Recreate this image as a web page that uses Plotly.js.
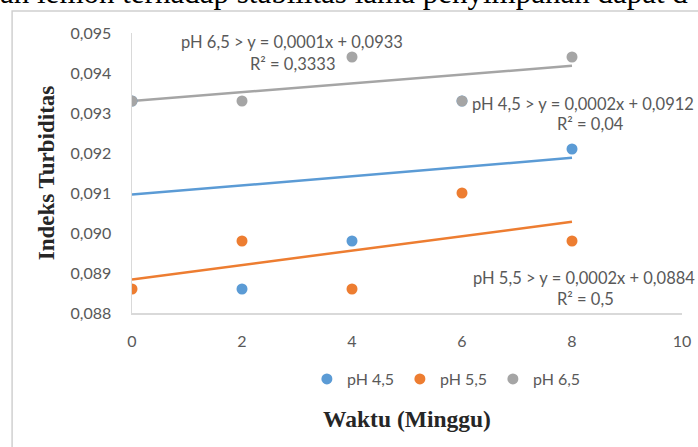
<!DOCTYPE html>
<html>
<head>
<meta charset="utf-8">
<script src="https://cdn.plot.ly/plotly-3.0.1.min.js"></script>
<style>
html,body{margin:0;padding:0;background:#fff;}
#chart{width:698px;height:447px;}
</style>
</head>
<body>
<div id="chart"></div>
<script>
// Data
var weeks = [0, 2, 4, 6, 8];
var ph45 = [0.0933, 0.0886, 0.0898, 0.0933, 0.0921];
var ph55 = [0.0886, 0.0898, 0.0886, 0.0910, 0.0898];
var ph65 = [0.0933, 0.0933, 0.0944, 0.0933, 0.0944];
var seriesNames = ['pH 4,5', 'pH 5,5', 'pH 6,5'];
var seriesColors = ['#5B9BD5', '#ED7D31', '#A5A5A5'];
var xTicks = [0, 2, 4, 6, 8, 10];
var yTicks = [0.088, 0.089, 0.090, 0.091, 0.092, 0.093, 0.094, 0.095];
var trendLabels = [
  ['pH 4,5 > y = 0,0002x + 0,0912', 'R² = 0,04'],
  ['pH 5,5 > y = 0,0002x + 0,0884', 'R² = 0,5'],
  ['pH 6,5 > y = 0,0001x + 0,0933', 'R² = 0,3333']
];
var headerText = 'an lemon terhadap stabilitas lama penyimpanan dapat d';

function linfit(xs, ys) {
  var n = xs.length, mx = 0, my = 0;
  for (var i = 0; i < n; i++) { mx += xs[i]; my += ys[i]; }
  mx /= n; my /= n;
  var sxy = 0, sxx = 0;
  for (var j = 0; j < n; j++) { sxy += (xs[j]-mx)*(ys[j]-my); sxx += (xs[j]-mx)*(xs[j]-mx); }
  var b = sxy / sxx;
  return {a: my - b*mx, b: b};
}

var allSeries = [ph45, ph55, ph65];
var traces = [];
allSeries.forEach(function(s, i) {
  var f = linfit(weeks, s);
  var x0 = weeks[0], x1 = weeks[weeks.length-1];
  traces.push({
    x: [x0, x1], y: [f.a + f.b*x0, f.a + f.b*x1],
    mode: 'lines', line: {color: seriesColors[i], width: 2.5},
    showlegend: false, hoverinfo: 'skip'
  });
});
allSeries.forEach(function(s, i) {
  traces.push({
    x: weeks, y: s, name: seriesNames[i],
    mode: 'markers', type: 'scatter',
    marker: {color: seriesColors[i], size: 11}
  });
});

var lblFont = {family: 'Lato, "Open Sans", sans-serif', size: 16.5, color: '#595959'};
var annotations = [
  // trendline labels (pH 6,5)
  {xref:'x', yref:'y', x:0.856, y:0.09478, xanchor:'left', yanchor:'middle', text: trendLabels[2][0], showarrow:false, font: lblFont},
  {xref:'x', yref:'y', x:2.11, y:0.09423, xanchor:'left', yanchor:'middle', text: trendLabels[2][1], showarrow:false, font: lblFont},
  // pH 4,5
  {xref:'x', yref:'y', x:6.14, y:0.09323, xanchor:'left', yanchor:'middle', text: trendLabels[0][0], showarrow:false, font: lblFont},
  {xref:'x', yref:'y', x:7.69, y:0.09273, xanchor:'left', yanchor:'middle', text: trendLabels[0][1], showarrow:false, font: lblFont},
  // pH 5,5
  {xref:'x', yref:'y', x:6.17, y:0.08887, xanchor:'left', yanchor:'middle', text: trendLabels[1][0], showarrow:false, font: lblFont},
  {xref:'x', yref:'y', x:7.69, y:0.08835, xanchor:'left', yanchor:'middle', text: trendLabels[1][1], showarrow:false, font: lblFont},
  // header text from document (cropped)
  {xref:'paper', yref:'paper', x:-0.2436, y:1.143, xanchor:'left', yanchor:'middle', text: headerText, showarrow:false,
   font:{family:'"Liberation Serif", "Times New Roman", serif', size:31, color:'#000'}}
];

var layout = {
  width: 698, height: 447,
  margin: {l:132, r:16, t:33, b:134},
  paper_bgcolor: '#fff', plot_bgcolor: '#fff',
  separators: ',.',
  showlegend: true,
  legend: {orientation:'h', x:0.318, xanchor:'left', y:-0.236, yanchor:'middle',
           bgcolor:'rgba(0,0,0,0)',
           font:{family:'Lato, "Open Sans", sans-serif', size:16, color:'#595959'},
           entrywidth: 48, entrywidthmode: 'pixels', itemwidth: 30, tracegroupgap: 0},
  xaxis: {
    range:[0,10], tickvals: xTicks, ticktext: xTicks.map(String),
    showgrid:false, zeroline:false, showline:true, linecolor:'#D9D9D9', linewidth:1.5,
    ticks:'', ticklabelstandoff: 13,
    tickfont:{family:'Lato, "Open Sans", sans-serif', size:16, color:'#595959'},
    title:{text:'Waktu (Minggu)', standoff: 62, font:{family:'"Liberation Serif", "Times New Roman", serif', size:23.5, color:'#262626', weight:'bold'}}
  },
  yaxis: {
    range:[0.088,0.095], tickvals: yTicks, tickformat: '.3f',
    showgrid:false, zeroline:false, showline:true, linecolor:'#D9D9D9', linewidth:1.5,
    ticks:'', ticklabelstandoff: 16,
    tickfont:{family:'Lato, "Open Sans", sans-serif', size:16, color:'#595959'},
    title:{text:'Indeks Turbiditas', standoff: 9, font:{family:'"Liberation Serif", "Times New Roman", serif', size:23, color:'#262626', weight:'bold'}}
  },
  shapes: [
    {type:'rect', xref:'paper', yref:'paper', x0:-0.218, x1:1.2, y0:-0.6, y1:1.0786,
     line:{color:'#D0D0D0', width:1.5}, fillcolor:'rgba(0,0,0,0)', layer:'below'}
  ],
  annotations: annotations
};

Plotly.newPlot('chart', traces, layout, {displayModeBar:false, staticPlot:true});
</script>
</body>
</html>
